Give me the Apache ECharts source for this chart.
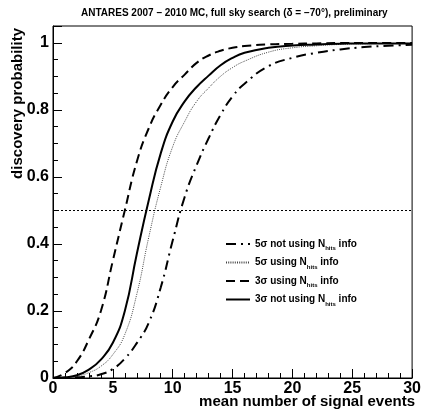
<!DOCTYPE html>
<html><head><meta charset="utf-8">
<script src="https://cdn.jsdelivr.net/npm/echarts@6/dist/echarts.min.js"></script>
<style>html,body{margin:0;padding:0;background:#fff}#c{width:424px;height:414px}</style>
</head><body><div id="c"></div>
<script>
const xs = [0,1,2,3,4,5,6,7,8,9,10,11,12,13,14,15,16,18,20,22,24,26,28,30];
const s3Using    = [0,0.015,0.05,0.115,0.2,0.35,0.5,0.645,0.745,0.815,0.868,0.905,0.94,0.962,0.976,0.985,0.99,0.995,0.997,0.998,0.999,0.999,0.999,0.999];
const s3NotUsing = [0,0.002,0.008,0.025,0.055,0.105,0.2,0.37,0.53,0.67,0.765,0.825,0.868,0.902,0.933,0.955,0.97,0.985,0.992,0.995,0.997,0.998,0.998,0.998];
const s5Using    = [0,0.001,0.005,0.016,0.035,0.07,0.13,0.25,0.42,0.57,0.69,0.765,0.825,0.865,0.9,0.926,0.945,0.972,0.985,0.991,0.995,0.997,0.998,0.998];
const s5NotUsing = [0,0.0005,0.002,0.005,0.011,0.027,0.058,0.104,0.165,0.27,0.41,0.54,0.635,0.715,0.785,0.84,0.878,0.93,0.955,0.97,0.98,0.987,0.991,0.994];
const names = ['5σ not using N_hits info','5σ using N_hits info','3σ using N_hits info','3σ not using N_hits info'];
const threshold = 0.5;

const pair = arr => xs.map((x,i)=>[x,arr[i]]);
const F = '"Liberation Sans", Arial, Helvetica, sans-serif';
const chart = echarts.init(document.getElementById('c'));
function mk(name, data, type, width, color){
  return {name, type:'line', data:pair(data), showSymbol:false, symbol:'none', smooth:0.5,
    lineStyle:{color, width, type}, itemStyle:{color}, silent:true, animation:false};
}
const series = [
  mk(names[0], s5NotUsing, [10,5,2,5], 2, '#000'),
  mk(names[1], s5Using, [1,1.2], 1, '#444'),
  mk(names[2], s3Using, [9,5], 2, '#000'),
  mk(names[3], s3NotUsing, 'solid', 2, '#000')
];
series[3].markLine = {silent:true, symbol:'none', label:{show:false},
  lineStyle:{color:'#000', width:1, type:[2,2]}, data:[{yAxis:threshold}], animation:false};

chart.setOption({
  animation:false,
  title:{text:'ANTARES 2007 – 2010 MC, full sky search (δ = −70°), preliminary', left:76, top:3,
    textStyle:{fontFamily:F, fontWeight:'bold', fontSize:10, color:'#000'}},
  grid:{left:53, right:9, top:26, bottom:36, show:true, borderColor:'#000', borderWidth:1, backgroundColor:'transparent'},
  legend:{orient:'vertical', left:220, top:234, itemWidth:24, itemHeight:10, itemGap:6,
    data:names, selectedMode:false,
    itemStyle:{color:'rgba(0,0,0,0)', opacity:0, borderWidth:0},
    formatter: n => { const p = n.split('N_hits'); return p[0]+'N{sub|hits}'+p[1]; },
    textStyle:{fontFamily:F, fontWeight:'bold', fontSize:10, color:'#000',
      rich:{sub:{fontFamily:F, fontWeight:'bold', fontSize:6, color:'#000', padding:[9,0,0,0]}}}},
  xAxis:{type:'value', min:0, max:30, interval:5,
    axisLine:{show:true, onZero:false, lineStyle:{color:'#000', width:1}},
    axisTick:{show:true, inside:true, length:9, lineStyle:{color:'#000'}},
    minorTick:{show:true, splitNumber:5, length:5, lineStyle:{color:'#000'}},
    splitLine:{show:false},
    axisLabel:{fontFamily:F, fontWeight:'bold', fontSize:16, color:'#000', margin:3}},
  yAxis:{type:'value', min:0, max:1.05, interval:0.2,
    axisLine:{show:true, lineStyle:{color:'#000', width:1}},
    axisTick:{show:true, inside:true, length:9, lineStyle:{color:'#000'}},
    minorTick:{show:true, splitNumber:4, length:5, lineStyle:{color:'#000'}},
    splitLine:{show:false},
    axisLabel:{fontFamily:F, fontWeight:'bold', fontSize:16, color:'#000', margin:4,
      formatter: v => (Math.abs(v*5 - Math.round(v*5))<1e-6) ? String(+v.toFixed(1)) : ''}},
  graphic:[
    {type:'text', x:415, y:394, style:{text:'mean number of signal events', fontFamily:F, fontWeight:'bold', fontSize:15, fill:'#000', textAlign:'right', textVerticalAlign:'top'}},
    {type:'text', x:10, y:28, rotation:Math.PI/2, style:{text:'discovery probability', fontFamily:F, fontWeight:'bold', fontSize:15, fill:'#000', textAlign:'right', textVerticalAlign:'top'}}
  ],
  series
});
</script></body></html>
